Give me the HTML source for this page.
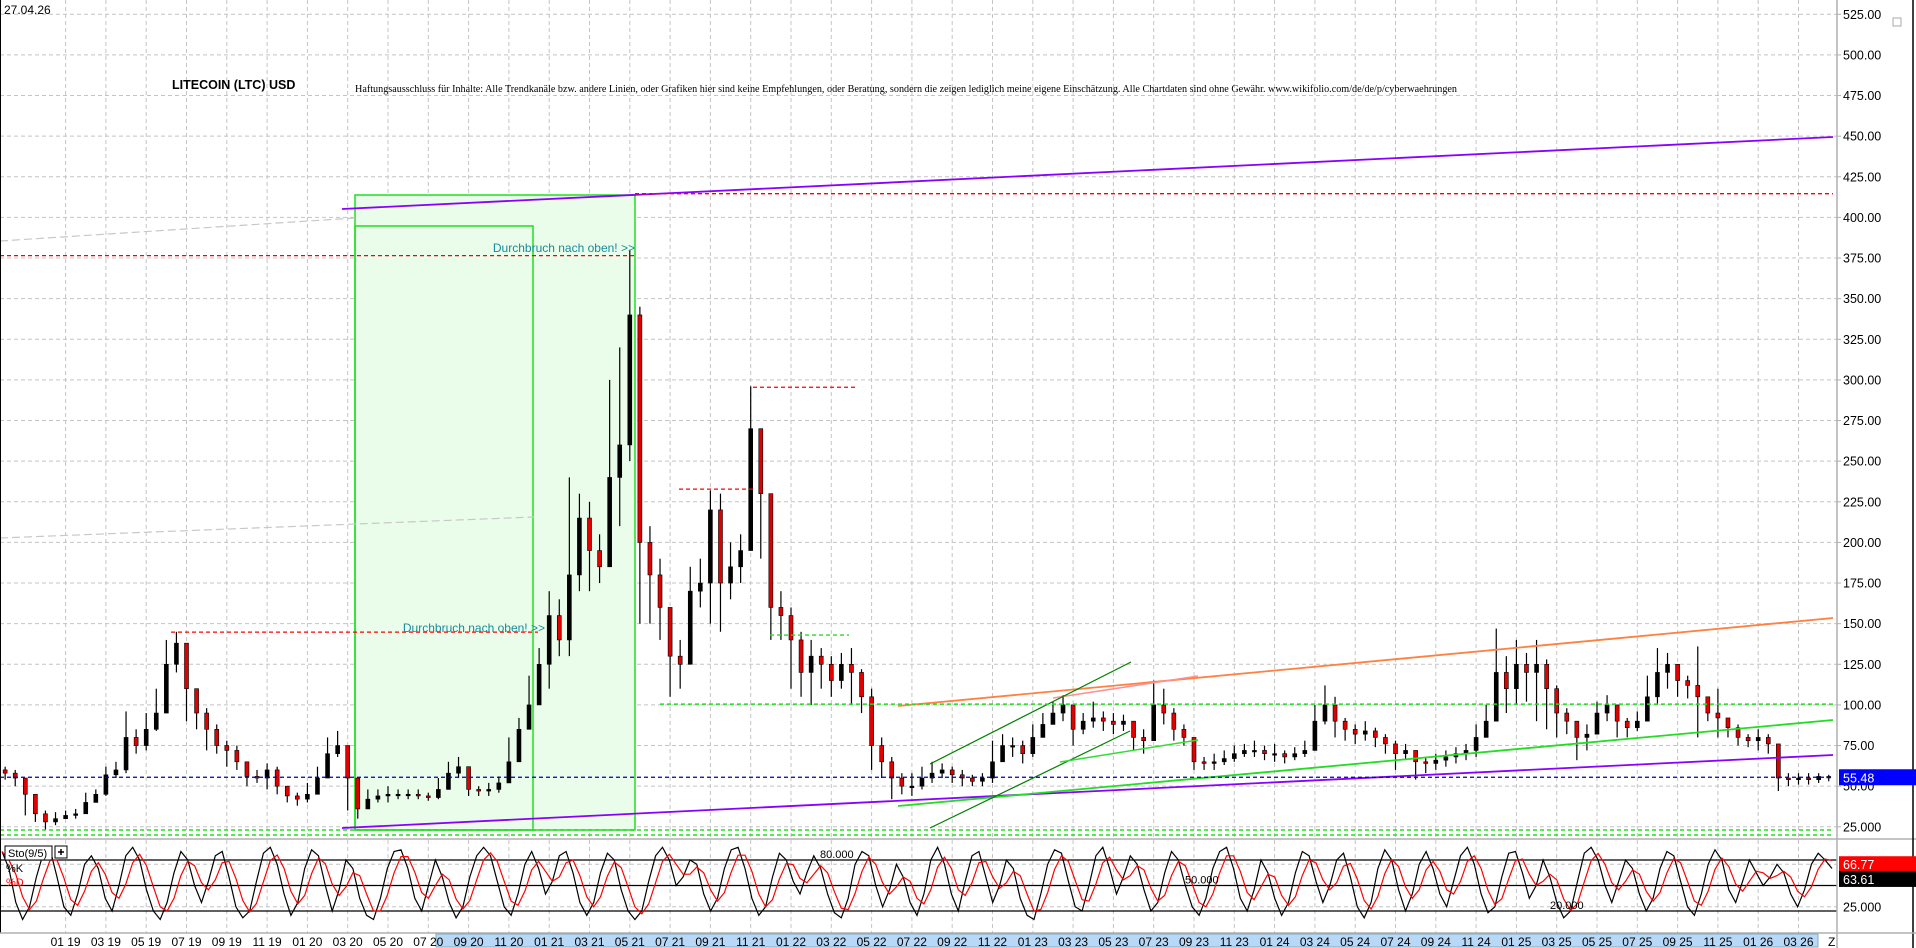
<!DOCTYPE html>
<html><head><meta charset="utf-8"><style>
html,body{margin:0;padding:0;background:#fff;}
svg{display:block;font-family:"Liberation Sans",sans-serif;}
</style></head><body>
<svg id="chart" width="1916" height="948" viewBox="0 0 1916 948" xmlns="http://www.w3.org/2000/svg">
<rect x="0" y="0" width="1916" height="948" fill="#fff"/>
<g id="grid"></g>
<g id="overlays-back"></g>
<g id="candles"></g>
<g id="overlays"></g>
<g id="stoch"></g>
<g id="axes"></g>
<text x="4" y="14" font-size="12" fill="#000">27.04.26</text>
<text x="172" y="89" font-size="12.5" font-weight="bold" fill="#000">LITECOIN (LTC) USD</text>
<text x="355" y="92" font-size="10" fill="#000" font-family="Liberation Serif, serif" textLength="1102" lengthAdjust="spacingAndGlyphs">Haftungsausschluss für Inhalte: Alle Trendkanäle bzw. andere Linien, oder Grafiken hier sind keine Empfehlungen, oder Beratung, sondern die zeigen lediglich meine eigene Einschätzung. Alle Chartdaten sind ohne Gewähr.  www.wikifolio.com/de/de/p/cyberwaehrungen</text>
</svg>
<script>
const startMonth = -3.5;
const closes = [60,58,55,45,33,28,30,32,33,40,45,57,60,80,75,85,95,125,138,110,95,85,75,72,65,56,55,60,50,44,42,
45,55,70,75,55,36,42,44,45,45,45,44,43,48,58,62,48,47,48,52,65,85,100,125,
155,140,180,215,195,185,240,260,340,200,180,160,130,125,170,175,220,175,185,195,270,230,160,155,
140,120,130,125,115,125,120,105,75,65,55,50,50,55,58,60,57,55,53,55,65,75,75,70,
80,88,95,100,85,90,92,90,88,90,80,78,100,95,85,80,65,64,65,67,70,72,72,70,
70,68,70,72,90,100,90,85,82,84,80,76,70,72,65,64,66,68,70,72,80,90,120,110,
125,120,125,110,95,90,80,82,95,100,90,86,90,105,120,125,115,112,105,95,92,86,80,78,
80,76,55,54,55,54,56,55.48];
const highs = [64,62,60,55,45,35,34,35,36,46,48,62,65,96,85,95,110,140,145,135,110,98,88,78,75,65,60,64,62,50,46,
52,62,80,84,75,55,48,48,50,48,48,48,46,55,65,68,60,50,52,56,80,92,118,135,
170,165,240,230,225,205,300,320,380,345,210,190,150,140,185,190,232,230,200,205,296,270,230,170,
160,145,140,135,130,132,135,122,110,80,68,58,58,62,65,64,62,60,57,58,78,82,80,78,
88,95,102,106,100,95,102,96,95,94,90,85,115,110,98,88,80,68,70,72,75,76,78,75,
76,72,74,78,100,112,105,92,88,90,86,82,78,76,70,68,70,72,74,76,88,100,147,130,
140,132,140,128,112,98,90,88,102,106,98,92,96,118,135,132,122,118,136,105,110,92,88,82,
85,82,75,58,58,58,58,57];
const lows = [56,54,50,32,28,23,26,30,30,34,40,44,55,58,70,72,84,95,120,90,85,72,70,62,60,50,52,48,45,40,38,
40,45,55,68,35,30,36,40,40,42,42,42,41,42,48,55,44,44,44,46,52,68,85,100,
110,130,130,170,170,175,185,210,250,150,150,140,105,110,125,160,150,145,165,175,200,190,140,140,
110,105,100,110,105,110,100,95,60,55,42,45,44,48,52,55,52,50,50,50,52,65,68,64,
68,80,88,90,75,82,86,84,82,84,72,70,85,88,78,75,60,60,60,63,65,68,68,66,
65,64,66,68,80,88,80,78,76,78,74,70,60,66,54,58,60,62,64,66,68,80,95,95,
100,102,90,85,80,82,66,72,85,90,80,80,84,90,100,110,105,104,80,90,80,80,75,74,
72,70,47,50,51,51,52,53];
const priceTicks = [525,500,475,450,425,400,375,350,325,300,275,250,225,200,175,150,125,100,75,50,25];
const monthLabels = ["01 19","03 19","05 19","07 19","09 19","11 19","01 20","03 20","05 20","07 20","09 20","11 20",
"01 21","03 21","05 21","07 21","09 21","11 21","01 22","03 22","05 22","07 22","09 22","11 22",
"01 23","03 23","05 23","07 23","09 23","11 23","01 24","03 24","05 24","07 24","09 24","11 24",
"01 25","03 25","05 25","07 25","09 25","11 25","01 26","03 26"];
const stochK = [90,70,30,10,25,60,88,92,60,25,15,40,75,85,70,35,20,50,85,95,80,45,20,10,30,65,90,80,50,30,55,85,90,60,25,12,20,55,88,95,75,40,15,30,70,92,85,50,20,45,80,70,35,15,10,35,70,90,92,70,35,20,50,80,60,30,12,25,60,85,95,85,55,25,15,40,75,90,70,40,55,85,90,65,30,15,30,65,88,80,45,20,10,20,55,85,95,80,50,60,80,75,40,20,35,70,92,95,70,35,15,25,60,88,80,55,40,65,85,70,40,18,12,35,75,90,85,50,25,45,75,60,30,15,40,80,95,75,40,20,55,85,90,60,30,50,80,70,35,15,10,40,75,92,88,55,25,20,50,85,95,70,40,60,85,75,45,20,30,65,90,80,50,25,15,35,70,90,95,70,35,20,45,80,65,35,15,30,65,90,85,55,30,50,80,88,60,25,12,30,70,92,80,45,20,40,75,90,70,40,25,55,85,95,75,40,18,25,60,88,90,65,35,50,80,60,30,12,20,55,88,95,80,50,30,55,80,70,40,20,35,70,90,85,55,25,15,40,75,92,80,45,30,55,80,65,50,60,75,65,40,25,45,75,88,80,70];
const lastPrice = 55.48, lastK = 66.77, lastD = 63.61;

const PX_R = 1837;
function X(m){ return 65.6 + 20.15*m; }
function Y(p){ return 14.3 + (525-p)*1.625; }
function SY(v){ return 860 + (80-v)*0.85; }
const NS='http://www.w3.org/2000/svg';
function el(parent, tag, attrs){ const e=document.createElementNS(NS,tag); for(const k in attrs) e.setAttribute(k,attrs[k]); parent.appendChild(e); return e; }

const grid=document.getElementById('grid');
priceTicks.forEach(p=>{ const l=el(grid,'line',{x1:0,x2:PX_R,y1:Y(p),y2:Y(p),stroke:'#c4c4c4','stroke-dasharray':'4,3'});

 });
monthLabels.forEach((t,i)=>{ const x=X(i*2); const l=el(grid,'line',{x1:x,x2:x,y1:0,y2:933,stroke:'#c4c4c4','stroke-dasharray':'4,3'});

 });

const ob=document.getElementById('overlays-back');
const r1=el(ob,'rect',{x:355,y:195,width:280,height:635,fill:'#eafdea',stroke:'#22dd22','stroke-width':1.5});


const r2=el(ob,'rect',{x:355,y:226,width:178,height:604,fill:'none',stroke:'#22dd22','stroke-width':1.5});



const cg=document.getElementById('candles');
closes.forEach((c,i)=>{
  const m=startMonth+0.5*i, x=X(m);
  const o = i>0 ? closes[i-1] : c;
  const w=el(cg,'line',{x1:x,x2:x,y1:Y(highs[i]),y2:Y(lows[i]),stroke:'#000','stroke-width':1.2});
  
  
  const top=Math.min(Y(o),Y(c)), h=Math.max(1.5,Math.abs(Y(o)-Y(c)));
  const b=el(cg,'rect',{x:x-2,y:top,width:4,height:h,fill:c>=o?'#000':'#e00000',stroke:'#000','stroke-width':0.6});
  
  
});

const og=document.getElementById('overlays');
function line(name,x1,y1,x2,y2,color,w,dash){
  const l=el(og,'line',{x1,y1,x2,y2,stroke:color,'stroke-width':w});
  if(dash) l.setAttribute('stroke-dasharray',dash);
  
  
}
line('gray-trend-upper',0,241,355,218,'#c8c8c8',1.2,'8,4');
line('gray-trend-lower',0,538,534,517,'#c8c8c8',1.2,'8,4');
line('purple-resistance',342,209,1833,137,'#8a00ff',1.8);
line('purple-support',342,828,1833,755,'#8a00ff',1.8);
line('orange-resistance',898,706,1833,618,'#ff8040',1.8);
line('salmon-segment',1053,698,1198,676,'#ff9090',1.5);
line('green-support',898,806,1833,720,'#22dd22',1.8);
line('green-channel-upper',930,764,1131,662,'#008000',1.2);
line('green-channel-lower',930,828,1130,731,'#008000',1.2);
line('green-channel-mid',1060,762,1198,740,'#33dd33',1.5);
line('red-level-415',635,Y(414.6),1833,Y(414.6),'#ff0000',1.3,'4,3');
line('red-level-376',0,Y(376.5),635,Y(376.5),'#ff0000',1.3,'4,3');
line('red-level-145',171,Y(144.8),538,Y(144.8),'#ff0000',1.3,'4,3');
line('red-level-233',679,Y(232.8),753,Y(232.8),'#ff0000',1.3,'4,3');
line('red-level-295',753,Y(295.5),855,Y(295.5),'#ff0000',1.3,'4,3');
line('green-level-143',770,Y(143),849,Y(143),'#22dd22',1.3,'4,3');
line('green-level-102',660,Y(100.5),1833,Y(100.5),'#22dd22',1.5,'4,3');
line('green-level-bottom1',0,830,1833,830,'#22dd22',1.5,'4,3');
line('green-level-bottom2',0,835,1833,835,'#22dd22',1.5,'4,3');
line('last-price-line',0,Y(lastPrice),1833,Y(lastPrice),'#0000aa',1.3,'4,3');
[[635,252],[545,632]].forEach(p=>{
  const t=el(og,'text',{x:p[0],y:p[1],'font-size':12,fill:'#1a8a9a','text-anchor':'end'});
  t.textContent='Durchbruch nach oben! >>';
  
  
});

const sg=document.getElementById('stoch');
el(sg,'line',{x1:0,x2:1916,y1:839,y2:839,stroke:'#b0b0b0','stroke-width':1.5});
[80,50,20].forEach(v=>{ const l=el(sg,'line',{x1:0,x2:PX_R,y1:SY(v),y2:SY(v),stroke:'#000','stroke-width':1.3});

 });
[75,25].forEach(v=>{ el(sg,'line',{x1:0,x2:PX_R,y1:SY(v),y2:SY(v),stroke:'#c4c4c4','stroke-dasharray':'4,3'}); });
const stochD = stochK.map((v,i)=>{ const a=stochK.slice(Math.max(0,i-2),i+1); return a.reduce((s,q)=>s+q,0)/a.length; });
const step=(1832-2)/(stochK.length-1);
function pts(arr){ return arr.map((v,i)=>(2+i*step).toFixed(1)+','+SY(v).toFixed(1)).join(' '); }
const kl=el(sg,'polyline',{points:pts(stochK),fill:'none',stroke:'#000','stroke-width':1.2});


const dl=el(sg,'polyline',{points:pts(stochD),fill:'none',stroke:'#ff0000','stroke-width':1.2});


[[820,'80.000',80],[1185,'50.000',50],[1550,'20.000',20]].forEach(a=>{
  const t=el(sg,'text',{x:a[0],y:SY(a[2])-2,'font-size':11,fill:'#000'}); t.textContent=a[1];
  
  
});
const sb=el(sg,'rect',{x:5,y:846,width:47,height:14,fill:'#fff',stroke:'#000'});


const st=el(sg,'text',{x:8,y:857,'font-size':11,fill:'#000'}); st.textContent='Sto(9/5)';


const pb=el(sg,'rect',{x:55,y:846,width:12,height:12,fill:'#fff',stroke:'#000'});


el(sg,'path',{d:'M58,852h6M61,849v6',stroke:'#000','stroke-width':1.5});
const kt=el(sg,'text',{x:6,y:872,'font-size':11,fill:'#000'}); kt.textContent='%K';


const dt=el(sg,'text',{x:6,y:886,'font-size':11,fill:'#ff0000'}); dt.textContent='%D';



const ag=document.getElementById('axes');
el(ag,'line',{x1:0.5,x2:0.5,y1:0,y2:933,stroke:'#000','stroke-width':1});
el(ag,'line',{x1:PX_R,x2:PX_R,y1:0,y2:948,stroke:'#b0b0b0','stroke-width':1.5});
el(ag,'line',{x1:1913,x2:1913,y1:0,y2:948,stroke:'#000','stroke-width':1.5});
el(ag,'line',{x1:0,x2:1916,y1:933,y2:933,stroke:'#b0b0b0','stroke-width':1.5});
el(ag,'rect',{x:1893,y:18,width:8,height:8,fill:'#fff',stroke:'#aaa'});
priceTicks.forEach(p=>{
  el(ag,'line',{x1:PX_R,x2:PX_R+4,y1:Y(p),y2:Y(p),stroke:'#b0b0b0'});
  const t=el(ag,'text',{x:1843,y:Y(p)+4.5,'font-size':12.5,fill:'#000'});
  t.textContent = p===25 ? '25.000' : p.toFixed(2);
  
  
});
const t25=el(ag,'text',{x:1843,y:SY(25)+4.5,'font-size':12.5,fill:'#000'}); t25.textContent='25.000';


function box(name,y,fill,txt){
  const r=el(ag,'rect',{x:1839,y:y-8,width:77,height:16,fill:fill});
  
  
  const t=el(ag,'text',{x:1843,y:y+5,'font-size':12.5,fill:'#fff'}); t.textContent=txt;
}
box('last-price-box',Y(lastPrice),'#0000ff',lastPrice.toFixed(2));
box('last-k-box',SY(lastK)-7,'#ff0000',lastK.toFixed(2));
box('last-d-box',SY(lastD)+5,'#000000',lastD.toFixed(2));
const hb=el(ag,'rect',{x:436,y:934,width:1382,height:13,fill:'#b8d8f8',stroke:'#8ab'});


monthLabels.forEach((lab,i)=>{
  const t=el(ag,'text',{x:X(i*2),y:946,'font-size':12,fill:'#000','text-anchor':'middle'});
  t.textContent=lab;
  
  
});
const z=el(ag,'text',{x:1828,y:946,'font-size':12,fill:'#000'}); z.textContent='Z';


</script>
</body></html>
